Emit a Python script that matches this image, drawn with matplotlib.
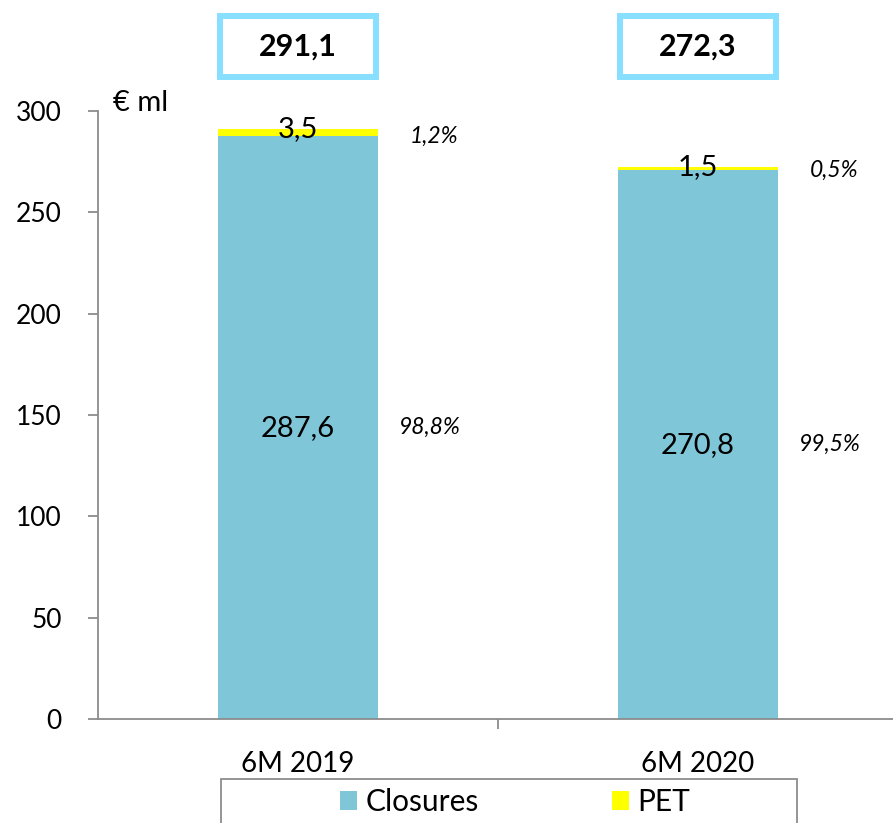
import matplotlib.pyplot as plt
from matplotlib.patches import Rectangle

plt.rcParams["font.family"] = ["Lato", "DejaVu Sans"]

periods = ["6M 2019", "6M 2020"]
closures = [287.6, 270.8]
pet = [3.5, 1.5]
totals = [291.1, 272.3]
closures_pct = ["98,8%", "99,5%"]
pet_pct = ["1,2%", "0,5%"]
y_ticks = [0, 50, 100, 150, 200, 250, 300]

closures_color = "#7FC6D8"
pet_color = "#FFFF00"
box_color = "#88DFFF"
axis_color = "#8C8C8C"
bar_width = 0.4


def fmt(v):
    return f"{v:.1f}".replace(".", ",")


fig = plt.figure(figsize=(8.93, 8.23), dpi=100)
ax = fig.add_axes([98 / 893, 104 / 823, 800 / 893, 608 / 823])

x = list(range(len(periods)))
ax.bar(x, closures, width=bar_width, color=closures_color, label="Closures")
ax.bar(x, pet, width=bar_width, bottom=closures, color=pet_color, label="PET")

ax.set_xlim(-0.5, 1.5)
ax.set_ylim(0, 300)

# axes look
for side in ["top", "right"]:
    ax.spines[side].set_visible(False)
for side in ["left", "bottom"]:
    ax.spines[side].set_color(axis_color)
    ax.spines[side].set_linewidth(1.3)

ax.set_yticks(y_ticks)
ax.tick_params(axis="y", direction="out", length=7, width=1.3, color=axis_color,
               pad=19, labelsize=19)
ax.set_xticks(x)
ax.set_xticklabels(periods)
ax.set_xticks([0.5], minor=True)
ax.tick_params(axis="x", which="major", length=0, pad=23, labelsize=20)
ax.tick_params(axis="x", which="minor", direction="out", length=7, width=1.3,
               color=axis_color)

ax.text(-0.4625, 304, "€ ml", fontsize=21, ha="left", va="center")

# labels inside / around the bars
for i in x:
    ax.text(i, closures[i] / 2, fmt(closures[i]), ha="center", va="center", fontsize=21)
    ax.text(i, totals[i], fmt(pet[i]), ha="center", va="center", fontsize=21)
    ax.text(i + 0.33, closures[i] / 2, closures_pct[i], ha="center", va="center",
            fontsize=16.5, style="italic")
    ax.text(i + 0.34, closures[i], pet_pct[i], ha="center", va="center",
            fontsize=16.5, style="italic")

    # total boxes above the plot
    box = Rectangle((i - 0.195, 317), 0.39, 30, facecolor="white",
                    edgecolor=box_color, linewidth=4.3, clip_on=False)
    ax.add_patch(box)
    ax.text(i, 332, fmt(totals[i]), ha="center", va="center", fontsize=22,
            fontweight="bold", clip_on=False)

# legend with a box cut by the bottom edge
handles, labels = ax.get_legend_handles_labels()
fig.legend(handles, labels, loc="center", bbox_to_anchor=(515 / 893, 1 - 802 / 823),
           ncol=2, frameon=False, fontsize=21.5, handlelength=0.57, handleheight=0.57,
           handletextpad=0.27, columnspacing=4.45)
fig.patches.append(Rectangle((221 / 893, -0.05), 576 / 893, 44 / 823 + 0.05,
                             transform=fig.transFigure, fill=False,
                             edgecolor=axis_color, linewidth=1.3))

fig.savefig("out.png", dpi=100)
